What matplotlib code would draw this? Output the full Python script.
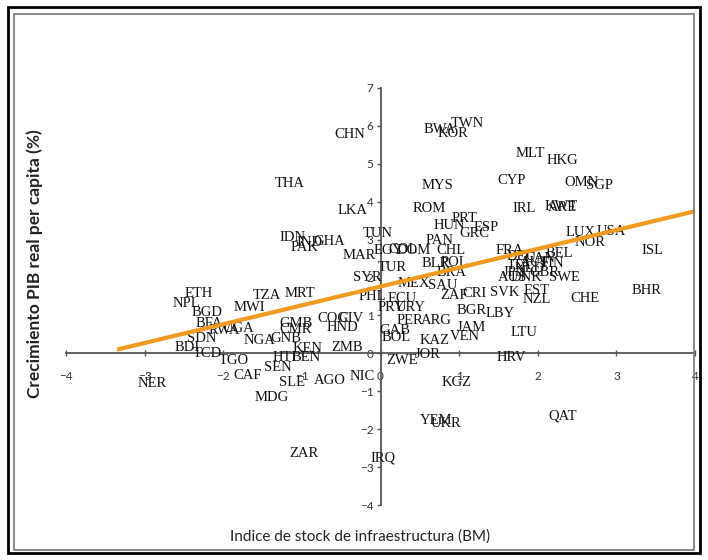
import matplotlib
matplotlib.use('Agg')
import matplotlib.pyplot as plt
from matplotlib.patches import Rectangle

# ── Data: country code, infrastructure index (x), real GDP pc growth (y) ───
codes = ['CHN', 'BWA', 'KOR', 'TWN', 'THA', 'MYS', 'CYP', 'MLT', 'HKG', 'OMN',
         'SGP', 'LKA', 'ROM', 'IRL', 'ARE', 'KWT', 'HUN', 'PRT', 'GRC', 'ESP',
         'IDN', 'IND', 'GHA', 'PAK', 'MAR', 'TUN', 'TUR', 'EGY', 'COL', 'DOM',
         'PAN', 'CHL', 'BLR', 'POL', 'BRA', 'MEX', 'SAU', 'SYR', 'PHL', 'ECU',
         'ZAF', 'CRI', 'SVK', 'EST', 'NZL', 'CHE', 'BHR', 'ISL', 'BGR', 'LBY',
         'JAM', 'VEN', 'LTU', 'KAZ', 'HRV', 'JOR', 'ZWE', 'KGZ', 'URY', 'PRY',
         'ARG', 'PER', 'GAB', 'BOL', 'HND', 'COG', 'CIV', 'GMB', 'CMR', 'ZMB',
         'NGA', 'GNB', 'KEN', 'BEN', 'HTI', 'SEN', 'SLE', 'AGO', 'NIC', 'MDG',
         'CAF', 'TGO', 'TCD', 'BDI', 'SDN', 'NER', 'ETH', 'NPL', 'BGD', 'MWI',
         'TZA', 'MRT', 'BFA', 'UGA', 'RWA', 'IRQ', 'ZAR', 'YEM', 'UKR', 'QAT',
         'LUX', 'USA', 'NOR', 'BEL', 'FRA', 'DEU', 'AUT', 'FIN', 'NLD', 'DNK',
         'SWE', 'GBR', 'JPN', 'CAN', 'ITA', 'AUS']
infra = [-0.39, 0.75, 0.92, 1.11, -1.16, 0.73, 1.67, 1.90, 2.31, 2.56,
         2.79, -0.36, 0.62, 1.83, 2.32, 2.30, 0.88, 1.07, 1.20, 1.35,
         -1.12, -0.90, -0.65, -0.96, -0.27, -0.04, 0.15, 0.11, 0.28, 0.42,
         0.75, 0.90, 0.70, 0.94, 0.90, 0.43, 0.79, -0.17, -0.10, 0.27,
         0.94, 1.20, 1.58, 1.99, 1.99, 2.60, 3.39, 3.46, 1.16, 1.52,
         1.16, 1.07, 1.83, 0.69, 1.67, 0.60, 0.27, 0.97, 0.39, 0.14,
         0.71, 0.37, 0.18, 0.20, -0.48, -0.61, -0.37, -1.07, -1.08, -0.43,
         -1.54, -1.20, -0.93, -0.94, -1.22, -1.31, -1.12, -0.65, -0.23, -1.38,
         -1.69, -1.86, -2.20, -2.46, -2.27, -2.90, -2.31, -2.47, -2.20, -1.67,
         -1.44, -1.03, -2.18, -1.80, -1.99, 0.03, -0.97, 0.71, 0.84, 2.32,
         2.54, 2.94, 2.66, 2.28, 1.64, 1.80, 1.96, 2.19, 1.90, 1.86,
         2.34, 2.09, 1.71, 2.03, 1.77, 1.68]
growth = [5.78, 5.91, 5.80, 6.07, 4.49, 4.43, 4.56, 5.28, 5.09, 4.51,
          4.43, 3.77, 3.83, 3.83, 3.85, 3.88, 3.38, 3.56, 3.17, 3.32,
          3.06, 2.93, 2.96, 2.80, 2.59, 3.17, 2.27, 2.72, 2.74, 2.72,
          2.98, 2.72, 2.37, 2.40, 2.14, 1.85, 1.79, 2.01, 1.50, 1.45,
          1.53, 1.58, 1.61, 1.66, 1.42, 1.45, 1.66, 2.72, 1.13, 1.06,
          0.69, 0.45, 0.55, 0.34, -0.11, -0.03, -0.18, -0.77, 1.21, 1.21,
          0.87, 0.87, 0.61, 0.42, 0.69, 0.92, 0.92, 0.79, 0.63, 0.16,
          0.34, 0.40, 0.13, -0.11, -0.11, -0.37, -0.77, -0.71, -0.61, -1.16,
          -0.58, -0.18, 0.00, 0.16, 0.40, -0.79, 1.58, 1.32, 1.08, 1.21,
          1.53, 1.58, 0.79, 0.66, 0.61, -2.77, -2.64, -1.77, -1.85, -1.64,
          3.19, 3.22, 2.93, 2.64, 2.72, 2.56, 2.40, 2.37, 2.24, 2.01,
          2.01, 2.14, 2.14, 2.51, 2.32, 2.01]

# fitted trend line end points
trend_x = [-3.35, 4.0]
trend_y = [0.10, 3.75]

x_ticks = [-4, -3, -2, -1, 0, 1, 2, 3, 4]
y_ticks = [-4, -3, -2, -1, 0, 1, 2, 3, 4, 5, 6, 7]

fig = plt.figure(figsize=(7.08, 5.6), dpi=100)

# frame around the chart
fig.patches.append(Rectangle((8 / 708, 7 / 560), 692 / 708, 546 / 560,
                             transform=fig.transFigure, fill=False,
                             edgecolor='black', linewidth=2))
fig.patches.append(Rectangle((14 / 708, 10 / 560), 680 / 708, 536 / 560,
                             transform=fig.transFigure, fill=False,
                             edgecolor='#777777', linewidth=1.2))

ax = fig.add_axes([66 / 708, 55 / 560, 629 / 708, 417 / 560])
ax.set_xlim(-4, 4)
ax.set_ylim(-4, 7)

for side in ('top', 'right'):
    ax.spines[side].set_visible(False)
for side in ('left', 'bottom'):
    ax.spines[side].set_position(('data', 0))
    ax.spines[side].set_color('#555555')
    ax.spines[side].set_linewidth(1.3)

ax.set_xticks(x_ticks)
ax.set_yticks(y_ticks)
ax.tick_params(axis='x', direction='inout', length=5, width=1, color='#555555',
               labelsize=8.5, labelcolor='#333333', pad=10)
ax.tick_params(axis='y', direction='out', length=3, width=1, color='#555555',
               labelsize=8.5, labelcolor='#333333', pad=2)
for lab in ax.get_xticklabels() + ax.get_yticklabels():
    lab.set_fontfamily('Lato')

# ── Country labels ───────────────────────────────────────────────────────
for code, xv, yv in zip(codes, infra, growth):
    ax.text(xv, yv, code, ha='center', va='center', fontsize=10.5,
            family='Liberation Serif', color='#111111', zorder=3)

# ── Trend line ───────────────────────────────────────────────────────────
ax.plot(trend_x, trend_y, color='#F39A1E', linewidth=3.0,
        solid_capstyle='butt', zorder=5)

fig.text(360 / 708, 1 - 537 / 560, 'Indice de stock de infraestructura (BM)',
         ha='center', va='center', fontsize=11, family='Lato',
         color='#222222')
fig.text(35 / 708, 1 - 264 / 560, 'Crecimiento PIB real per capita (%)',
         ha='center', va='center', rotation=90, fontsize=12.5,
         family='Lato', fontweight='bold', color='#222222')

fig.savefig('out.png', dpi=100)
